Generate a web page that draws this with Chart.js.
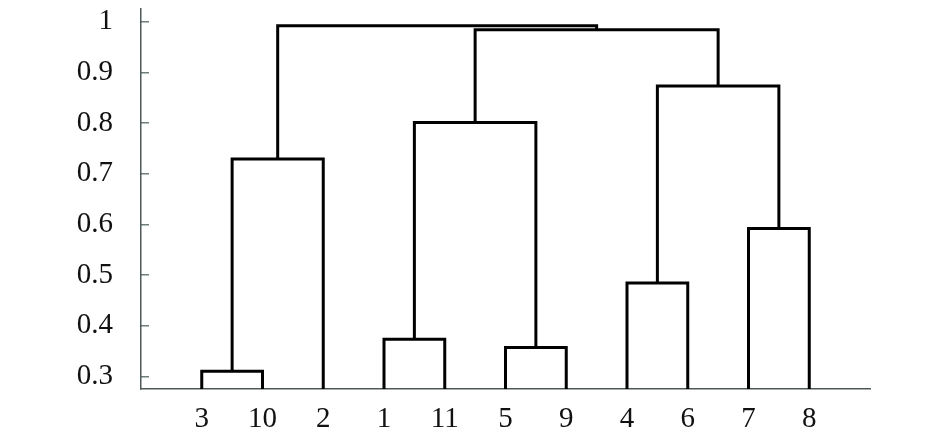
<!DOCTYPE html>
<html>
<head>
<meta charset="utf-8">
<script src="https://cdn.jsdelivr.net/npm/chart.js@4"></script>
<style>
  html, body { margin: 0; padding: 0; background: #fff; }
  #wrap { width: 946px; height: 442px; position: relative; }
</style>
</head>
<body>
<div id="wrap"><canvas id="dendro"></canvas></div>
<script>
// leaf order along the x axis
const leafLabels = ['3', '10', '2', '1', '11', '5', '9', '4', '6', '7', '8'];

// merges: node ids 0..10 are leaves, each merge creates node 11, 12, ...
const mergeLeft   = [0, 3, 5, 7, 9, 11, 12, 14, 17, 16];
const mergeRight  = [1, 4, 6, 8, 10, 2, 13, 15, 18, 19];
const mergeHeight = [0.31, 0.373, 0.357, 0.484, 0.592, 0.729, 0.801, 0.873, 0.984, 0.992];

const yTicks = [0.3, 0.4, 0.5, 0.6, 0.7, 0.8, 0.9, 1];
const yMin = 0.275;
const yMax = 1.025;

// build the U-shaped links from the merge table
const nodeX = leafLabels.map((_, i) => i);
const nodeH = leafLabels.map(() => yMin);
const links = [];
mergeLeft.forEach((l, i) => {
  const r = mergeRight[i];
  const h = mergeHeight[i];
  links.push({
    data: [
      { x: nodeX[l], y: nodeH[l] },
      { x: nodeX[l], y: h },
      { x: nodeX[r], y: h },
      { x: nodeX[r], y: nodeH[r] }
    ],
    borderColor: '#000',
    borderWidth: 3,
    pointRadius: 0,
    tension: 0,
    fill: false,
    clip: false
  });
  nodeX.push((nodeX[l] + nodeX[r]) / 2);
  nodeH.push(h);
});

const font = { family: '"Liberation Serif", "Times New Roman", serif', size: 29 };

new Chart(document.getElementById('dendro'), {
  type: 'line',
  data: { datasets: links },
  options: {
    responsive: true,
    maintainAspectRatio: false,
    animation: false,
    layout: { padding: { top: 9, right: 76, left: 0, bottom: 0 } },
    plugins: { legend: { display: false }, tooltip: { enabled: false } },
    scales: {
      x: {
        type: 'linear',
        min: -1,
        max: 11,
        afterBuildTicks: (scale) => {
          scale.ticks = leafLabels.map((_, i) => ({ value: i }));
        },
        afterFit: (scale) => {
          scale.height = 53;
          scale.paddingLeft = 0;
          scale.paddingRight = 0;
        },
        ticks: {
          autoSkip: false,
          maxRotation: 0,
          padding: 13,
          color: '#111',
          font: font,
          callback: (v) => leafLabels[v] ?? ''
        },
        grid: { drawOnChartArea: false, drawTicks: false },
        border: { display: true, color: '#4d5858', width: 1.5 }
      },
      y: {
        type: 'linear',
        min: yMin,
        max: yMax,
        afterBuildTicks: (scale) => {
          scale.ticks = yTicks.map((v) => ({ value: v }));
        },
        afterFit: (scale) => {
          scale.width = 141;
          scale.paddingTop = 0;
          scale.paddingBottom = 0;
        },
        ticks: {
          padding: 36,
          color: '#111',
          font: font,
          callback: (v) => String(v)
        },
        grid: { drawOnChartArea: false, drawTicks: true, tickLength: -8, color: '#6f7d7d', lineWidth: 1.5 },
        border: { display: true, color: '#4d5858', width: 1.5 }
      }
    }
  }
});
</script>
</body>
</html>
